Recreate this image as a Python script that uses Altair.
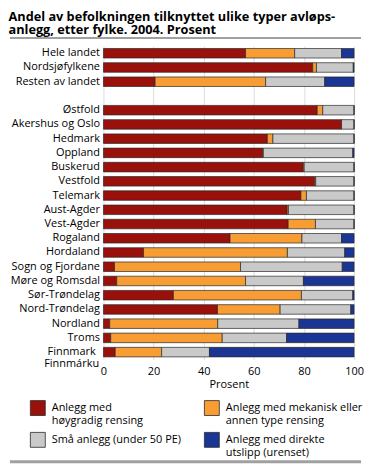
import altair as alt
import pandas as pd

categories = ["Hele landet", "Nordsjøfylkene", "Resten av landet", " ",
              "Østfold", "Akershus og Oslo", "Hedmark", "Oppland", "Buskerud",
              "Vestfold", "Telemark", "Aust-Agder", "Vest-Agder", "Rogaland",
              "Hordaland", "Sogn og Fjordane", "Møre og Romsdal", "Sør-Trøndelag",
              "Nord-Trøndelag", "Nordland", "Troms", "Finnmark"]
rows = [c for c in categories if c.strip()]

hoygradig = [56.7, 83.5, 20.6, 85.3, 95.0, 65.4, 63.5, 79.7, 84.3, 78.8, 73.3, 73.7,
             50.5, 16.0, 4.4, 5.3, 27.9, 45.5, 2.5, 2.9, 4.7]
mekanisk = [19.6, 1.5, 44.1, 2.2, 0.0, 2.2, 0.3, 0.4, 0.4, 2.2, 0.5, 10.9,
            28.7, 57.4, 50.3, 51.4, 51.1, 25.0, 43.1, 44.5, 18.5]
sma = [18.7, 14.7, 23.6, 12.5, 5.0, 32.4, 35.7, 19.9, 15.3, 19.0, 26.2, 15.4,
       15.8, 22.9, 40.6, 23.1, 20.5, 28.2, 32.4, 25.7, 19.1]
direkte = [5.0, 0.3, 11.7, 0.0, 0.0, 0.0, 0.5, 0.0, 0.0, 0.0, 0.0, 0.0,
           5.0, 3.7, 4.7, 20.2, 0.5, 1.3, 22.0, 26.9, 57.7]

series = ["Anlegg med|høygradig rensing",
          "Anlegg med mekanisk eller|annen  type rensing",
          "Små anlegg (under 50 PE)",
          "Anlegg med direkte|utslipp (urenset)"]
colors = ["#9a100b", "#f79d34", "#c9c9c9", "#1b3594"]
x_ticks = [0, 20, 40, 60, 80, 100]

records = []
for i, name in enumerate(rows):
    for k, vals in enumerate([hoygradig, mekanisk, sma, direkte]):
        records.append({"region": name, "serie": series[k], "ord": k, "verdi": vals[i]})
df = pd.DataFrame(records)

ydom = alt.Scale(domain=categories, paddingInner=0.33, paddingOuter=0.17)

bars = alt.Chart(df).mark_bar(stroke="#2a2a2a", strokeWidth=0.7).encode(
    y=alt.Y("region:N", scale=ydom, title=None,
            axis=alt.Axis(domain=False, ticks=False, grid=False, labelPadding=4,
                          labelFontSize=11, labelColor="#000",
                          labelExpr="datum.value == 'Finnmark' ? '' : datum.label")),
    x=alt.X("verdi:Q", stack="zero",
            scale=alt.Scale(domain=[0, 100], nice=False),
            title="Prosent",
            axis=alt.Axis(values=x_ticks, domain=False, ticks=False, grid=True,
                          gridColor="#dcdcdc", labelFontSize=11, labelColor="#000",
                          labelFlush=False,
                          titleFontSize=11, titleFontWeight="normal", titleColor="#000",
                          labelPadding=6, titlePadding=2)),
    color=alt.Color("serie:N", scale=alt.Scale(domain=series, range=colors),
                    legend=alt.Legend(title=None, orient="none", legendX=-74, legendY=356,
                                      direction="horizontal",
                                      columns=2, columnPadding=20, rowPadding=4,
                                      symbolType="square", symbolSize=225,
                                      symbolStrokeColor="#2a2a2a", symbolStrokeWidth=0.8,
                                      symbolOpacity=1, labelFontSize=11, labelColor="#000",
                                      labelFont="Open Sans", labelOffset=6, labelLimit=200,
                                      labelExpr="split(datum.label, '|')")),
    order=alt.Order("ord:Q"),
)

fin_df = pd.DataFrame({"region": ["Finnmark", "Finnmark"],
                       "txt": ["Finnmark", "Finnmárku"], "line": [0, 1]})
fin0 = alt.Chart(fin_df[fin_df.line == 0]).mark_text(
    align="center", baseline="middle", fontSize=11, color="#000").encode(
    y=alt.Y("region:N", scale=ydom), x=alt.value(-32), text="txt:N")
fin1 = alt.Chart(fin_df[fin_df.line == 1]).mark_text(
    align="center", baseline="middle", fontSize=11, color="#000", dy=12).encode(
    y=alt.Y("region:N", scale=ydom), x=alt.value(-32), text="txt:N")

top_rule = alt.Chart(pd.DataFrame({"a": [0]})).mark_rule(color="#a0a0a0", strokeWidth=2).encode(
    x=alt.value(-94), x2=alt.value(259), y=alt.value(-8))
bot_rule = alt.Chart(pd.DataFrame({"a": [0]})).mark_rule(color="#a0a0a0", strokeWidth=3).encode(
    x=alt.value(-94), x2=alt.value(259), y=alt.value(418))

chart = alt.layer(bars, fin0, fin1, top_rule, bot_rule).properties(
    width=252, height=315,
    padding={"left": 0, "top": 2, "right": 0, "bottom": 0},
    title=alt.Title(["Andel av befolkningen tilknyttet ulike typer avløps-",
                     "anlegg, etter fylke. 2004. Prosent"],
                    anchor="start", frame="bounds", fontSize=12.8, fontWeight="bold",
                    font="Open Sans", lineHeight=13, offset=0, color="#000"),
).configure(font="Open Sans").configure_view(stroke=None)

chart.save("out.html", embed_options={"renderer": "svg", "actions": False})
